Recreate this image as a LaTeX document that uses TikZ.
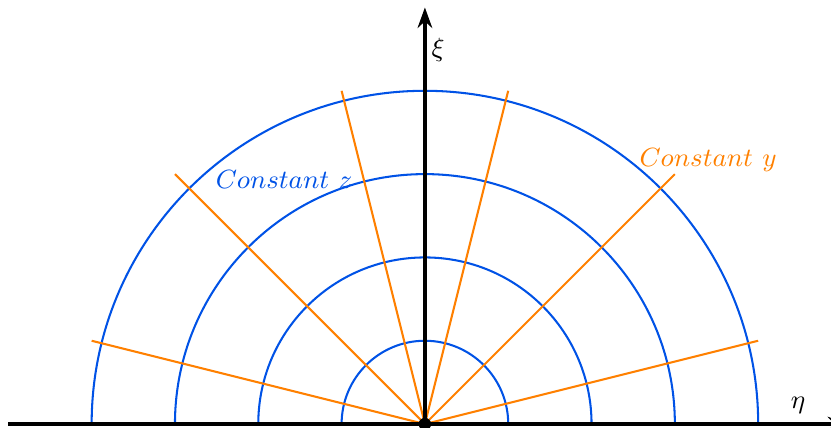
\documentclass[tikz,border=0pt]{standalone}
\usetikzlibrary{arrows.meta}
\definecolor{cblue}{RGB}{0,82,230}
\definecolor{corange}{RGB}{255,128,0}
\begin{document}
\begin{tikzpicture}[x=1cm,y=1cm,
  circ/.style={cblue,line width=0.7pt},
  ray/.style={corange,line width=0.7pt},
  lbl/.style={font=\fontsize{9.4}{11}\selectfont},
  axis/.style={line width=1.1pt,-{Stealth[length=7pt,width=5pt]}}]
\useasboundingbox (-5.10,-0.036) rectangle (4.874,5.09);
\coordinate (O) at (0,0);
\foreach \r in {1,2,3,4} \draw[circ] (\r,0) arc[start angle=0,end angle=180,radius=\r];
\foreach \x/\y [count=\i] in {4/1,3/3,1/4,-1/4,-3/3,-4/1} {
  \coordinate (e\i) at (\x,\y);
  \draw[ray] (O) -- (e\i);
}
\coordinate (xl) at (-5,0);
\coordinate (xr) at (5.08,0);
\coordinate (yt) at (0,5);
\draw[axis] (xl) -- (xr);
\draw[axis] (O) -- (yt);
\fill (O) circle[radius=0.075];
\node[lbl] (xi) at (0.16,4.49) {$\xi$};
\node[lbl] (eta) at (4.48,0.23) {$\eta$};
\node[cblue,lbl] (cz) at (-1.69,2.94) {$Constant\ z$};
\node[corange,lbl] (cy) at (3.40,3.17) {$Constant\ y$};
\end{tikzpicture}
\end{document}
